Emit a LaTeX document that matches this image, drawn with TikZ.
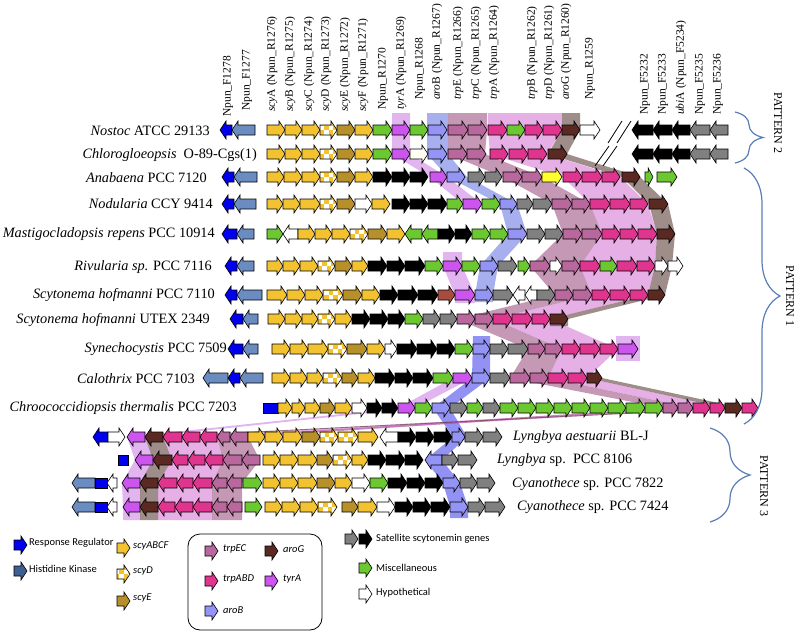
\documentclass[tikz,border=0pt]{standalone}
\usepackage{fontspec}
\setmainfont{Liberation Serif}
\newfontfamily\legfont{Carlito}
\usetikzlibrary{decorations.pathreplacing}

\definecolor{scyY}{HTML}{F2C230}
\definecolor{scyEc}{HTML}{B8902A}
\definecolor{satG}{HTML}{808080}
\definecolor{miscG}{HTML}{6CC830}
\definecolor{tyrAc}{HTML}{CC55EE}
\definecolor{aroBc}{HTML}{9494F4}
\definecolor{trpECc}{HTML}{B8689C}
\definecolor{trpABDc}{HTML}{E0358E}
\definecolor{aroGc}{HTML}{5A2A22}
\definecolor{redB}{HTML}{A84C40}
\definecolor{brightY}{HTML}{FFFF30}
\definecolor{rrB}{HTML}{0000EE}
\definecolor{hkB}{HTML}{6A8CC0}
\definecolor{hkD}{HTML}{3F5F90}
\definecolor{braceB}{HTML}{5A7DB5}

\tikzset{
  gene/.style={draw=black, line width=0.6pt},
  cY/.style={fill=scyY},
  cD/.style={fill=scyY, path picture={
      \foreach \dx/\dy in {-9pt/0pt,-4.5pt/-4.5pt,0pt/0pt,4.5pt/-4.5pt}
        \fill[white] ([xshift=\dx, yshift=\dy]path picture bounding box.center) rectangle ++(4.5pt,4.5pt);}},
  cE/.style={fill=scyEc},
  cK/.style={fill=black},
  cS/.style={fill=satG},
  cG/.style={fill=miscG},
  cW/.style={fill=white},
  cWl/.style={fill=black!8!yellow!5},
  cT/.style={fill=tyrAc},
  cB/.style={fill=aroBc},
  cM/.style={fill=trpECc},
  cP/.style={fill=trpABDc},
  cR/.style={fill=aroGc},
  cRb/.style={fill=redB},
  cYb/.style={fill=brightY},
  cRR/.style={fill=rrB},
  cHK/.style={fill=hkB},
  cHKd/.style={fill=hkD},
  bandB/.style={fill={rgb,255:red,80;green,96;blue,224}, fill opacity=0.5},
  bandBd/.style={fill={rgb,255:red,100;green,100;blue,240}, fill opacity=0.7},
  bandT/.style={fill={rgb,255:red,190;green,90;blue,225}, fill opacity=0.45},
  bandM/.style={fill={rgb,255:red,150;green,70;blue,120}, fill opacity=0.55},
  bandP/.style={fill={rgb,255:red,200;green,80;blue,200}, fill opacity=0.45},
  bandR/.style={fill={rgb,255:red,80;green,48;blue,40}, fill opacity=0.55},
  glab/.style={rotate=90, anchor=west, inner sep=0pt, font=\fontsize{11.5}{12}\selectfont},
  sp/.style={inner sep=0pt, font=\fontsize{14.3}{16}\selectfont},
  patt/.style={rotate=-90, inner sep=0pt, font=\fontsize{12}{13}\selectfont},
  pbrace/.style={draw=braceB, line width=1.2pt, decorate},
  leg/.style={anchor=west, inner sep=0pt, font=\legfont\fontsize{10.5}{12}\selectfont},
}

% one gene: x1, x2, y, colour style, direction (r, l or n)
\newcommand\gene[5]{%
  \pgfmathsetmacro\gh{min(6,0.6*(#2-#1))}%
  \if r#5
    \draw[gene,#4] (#1,#3-5) -- (#2-\gh,#3-5) -- (#2-\gh,#3-9) -- (#2,#3)
      -- (#2-\gh,#3+9) -- (#2-\gh,#3+5) -- (#1,#3+5) -- cycle;
  \else\if l#5
    \draw[gene,#4] (#2,#3-5) -- (#1+\gh,#3-5) -- (#1+\gh,#3-9) -- (#1,#3)
      -- (#1+\gh,#3+9) -- (#1+\gh,#3+5) -- (#2,#3+5) -- cycle;
  \else
    \draw[gene,#4] (#1,#3-5) rectangle (#2,#3+5);
  \fi\fi}
\newcommand\generow[2]{\foreach \a/\b/\s/\d in {#2} {\gene{\a}{\b}{#1}{\s}{\d}}}

\begin{document}
\begin{tikzpicture}[x=1pt,y=-1pt]
\useasboundingbox (0,0) rectangle (800,634);

% homology bands
\fill[bandB] (427,113) -- (448,113) -- (448,154) -- (467,177) -- (517,204) -- (527,234) -- (498,266)
  -- (493,295) -- (493,302) -- (475,302) -- (475,295) -- (480,266) -- (508,234) -- (500,204)
  -- (448,177) -- (427,154) -- cycle;
\fill[bandBd] (473,336) -- (490,336) -- (490,378) -- (450,408) -- (467,437) -- (442,460) -- (460,483)
  -- (468,507) -- (468,518) -- (450,518) -- (450,507) -- (443,483) -- (425,460) -- (453,437)
  -- (433,408) -- (472,378) -- cycle;
\fill[bandT] (392,113) -- (410,113) -- (410,154) -- (447,177) -- (482,204) -- (463,204) -- (430,177)
  -- (392,154) -- cycle;
\fill[bandT] (443,252) -- (462,252) -- (462,266) -- (475,295) -- (475,303) -- (455,303) -- (455,295)
  -- (443,266) -- cycle;
\fill[bandT] (616,336) rectangle (640,361);
\fill[bandT] (453,378) -- (472,378) -- (415,408) -- (145,437) -- (153,460) -- (140,483) -- (140,507)
  -- (140,520) -- (123,520) -- (123,507) -- (122,483) -- (135,460) -- (127,437) -- (398,408) -- cycle;
\fill[bandM] (448,113) -- (487,113) -- (487,130) -- (485,154) -- (542,177) -- (590,204) -- (602,234)
  -- (580,266) -- (592,295) -- (493,319) -- (562,349) -- (548,378) -- (693,408) -- (248,437)
  -- (260,460) -- (242,483) -- (242,520) -- (212,520) -- (212,483) -- (223,460) -- (217,437)
  -- (663,408) -- (510,378) -- (528,349) -- (457,319) -- (555,295) -- (530,266) -- (563,234)
  -- (552,204) -- (503,177) -- (448,154) -- cycle;
\fill[bandP] (488,113) -- (562,113) -- (562,130) -- (547,154) -- (620,177) -- (648,204) -- (657,234)
  -- (655,266) -- (648,295) -- (550,319) -- (618,349) -- (587,378) -- (725,408) -- (217,437)
  -- (223,460) -- (212,483) -- (212,520) -- (158,520) -- (158,483) -- (172,460) -- (163,437)
  -- (693,408) -- (548,378) -- (562,349) -- (493,319) -- (592,295) -- (580,266) -- (602,234)
  -- (590,204) -- (563,177) -- (490,154) -- (488,130) -- cycle;
\fill[bandR] (562,113) -- (580,113) -- (580,130) -- (567,154) -- (640,177) -- (668,204) -- (675,234)
  -- (672,266) -- (665,295) -- (568,319) -- (568,326) -- (550,326) -- (550,319) -- (648,295)
  -- (655,266) -- (657,234) -- (649,204) -- (622,177) -- (548,154) -- (562,130) -- cycle;
\fill[bandR] (587,378) -- (602,378) -- (742,408) -- (163,437) -- (172,460) -- (158,483) -- (158,520)
  -- (140,520) -- (140,483) -- (153,460) -- (145,437) -- (725,408) -- cycle;

% gene rows
\generow{130}{220/232/cRR/l, 232/255/cHK/l, 267/285/cY/r, 285/302/cY/r, 302/320/cY/r, 320/337/cD/r,
  337/355/cE/r, 355/373/cY/r, 373/392/cG/r, 392/410/cT/r, 410/428/cG/r, 428/447/cB/r, 448/468/cM/r,
  468/487/cM/r, 488/507/cP/r, 507/525/cG/r, 525/543/cP/r, 543/562/cP/r, 562/580/cR/r, 580/600/cW/r,
  632/653/cK/l, 653/672/cK/l, 672/690/cK/l, 690/710/cS/l, 710/728/cS/l}
\generow{154}{267/285/cY/r, 285/302/cY/r, 302/320/cY/r, 320/337/cD/r, 337/355/cE/r, 355/373/cY/r,
  373/392/cG/r, 392/410/cT/r, 410/428/cWl/r, 428/447/cB/r, 448/467/cM/r, 467/486/cM/r, 490/508/cP/r,
  509/528/cP/r, 528/547/cP/r, 548/567/cR/r, 632/653/cK/l, 653/672/cK/l, 672/690/cK/l, 690/710/cS/l,
  710/728/cS/l}
\generow{177}{222/234/cRR/l, 234/257/cHK/l, 267/284/cY/r, 284/302/cY/r, 302/320/cY/r, 320/337/cD/r,
  337/355/cE/r, 355/373/cY/r, 373/392/cK/r, 392/410/cK/r, 410/428/cK/r, 430/447/cT/r, 447/465/cB/r,
  468/485/cS/r, 485/502/cS/r, 503/522/cM/r, 522/542/cM/r, 542/562/cYb/r, 563/582/cP/r, 582/602/cP/r,
  602/620/cP/r, 622/640/cR/r, 645/653/cG/r, 657/677/cG/r}
\generow{204}{222/234/cRR/l, 234/256/cHK/l, 267/283/cY/r, 283/300/cY/r, 300/320/cY/r, 320/337/cD/r,
  337/355/cE/r, 355/372/cW/r, 372/390/cY/r, 392/410/cK/r, 410/428/cK/r, 428/447/cK/r, 447/463/cG/r,
  463/482/cT/r, 482/500/cG/r, 500/517/cB/r, 517/533/cS/r, 533/552/cS/r, 552/572/cM/r, 572/590/cM/r,
  590/610/cP/r, 610/630/cP/r, 630/648/cP/r, 649/668/cR/r}
\generow{234}{222/237/cRR/l, 237/254/cHK/l, 267/283/cG/r, 283/298/cW/l, 298/315/cY/r, 315/332/cY/r,
  332/350/cY/r, 350/368/cD/r, 368/387/cE/r, 387/405/cY/r, 405/422/cG/l, 422/438/cG/l, 438/455/cK/r,
  455/472/cK/r, 472/490/cG/r, 490/508/cG/r, 508/527/cB/r, 527/545/cS/r, 545/563/cS/r, 563/582/cM/r,
  582/602/cM/r, 602/620/cP/r, 620/638/cP/r, 638/657/cP/r, 657/675/cR/r}
\generow{266}{225/237/cRR/l, 237/254/cHK/l, 267/283/cY/r, 283/300/cY/r, 300/318/cY/r, 318/335/cD/r,
  335/352/cE/r, 352/368/cY/r, 368/387/cK/r, 387/405/cK/r, 405/425/cK/r, 425/443/cG/r, 443/462/cT/r,
  462/480/cG/r, 480/498/cB/r, 498/517/cS/r, 518/530/cG/r, 530/550/cM/r, 550/562/cW/r, 562/580/cM/r,
  580/600/cP/r, 600/617/cG/r, 617/637/cP/r, 637/655/cP/r, 655/668/cW/r, 668/683/cW/r}
\generow{295}{225/237/cRR/l, 237/262/cHK/l, 267/287/cY/r, 287/305/cY/r, 305/323/cY/r, 323/343/cD/r,
  343/362/cE/r, 362/380/cY/r, 380/398/cK/r, 398/418/cK/r, 418/438/cK/r, 438/455/cRb/r, 455/475/cT/r,
  475/493/cB/r, 493/513/cS/r, 513/525/cW/l, 525/537/cW/l, 537/555/cS/r, 555/573/cM/r, 573/592/cM/r,
  592/610/cP/r, 610/630/cP/r, 630/648/cP/r, 648/665/cR/r}
\generow{319}{230/243/cRR/l, 243/258/cHK/l, 268/285/cY/r, 285/302/cY/r, 302/318/cY/r, 318/335/cD/r,
  335/352/cY/r, 352/370/cK/r, 370/388/cK/r, 388/405/cK/r, 405/423/cG/r, 423/440/cS/r, 440/457/cS/r,
  457/475/cM/r, 475/493/cM/r, 493/512/cP/r, 512/532/cP/r, 532/550/cP/r, 550/568/cR/r}
\generow{349}{228/243/cRR/l, 243/258/cHK/l, 272/290/cY/r, 290/308/cY/r, 308/328/cY/r, 328/347/cD/r,
  347/367/cE/r, 367/385/cY/r, 385/397/cW/r, 397/417/cK/r, 417/437/cK/r, 437/455/cK/r, 455/473/cG/r,
  473/490/cB/r, 490/508/cS/r, 508/528/cS/r, 528/545/cM/r, 545/562/cM/r, 562/580/cP/r, 580/600/cP/r,
  600/618/cP/r, 618/638/cT/r}
\generow{378}{203/228/cHK/l, 228/240/cRR/l, 240/263/cHK/l, 272/290/cY/r, 290/307/cY/r, 307/323/cY/r,
  323/342/cD/r, 342/358/cE/r, 358/375/cY/r, 375/395/cK/r, 395/413/cK/r, 413/433/cK/r, 433/453/cG/r,
  453/472/cT/r, 472/490/cB/r, 490/510/cS/r, 510/530/cM/r, 530/548/cM/r, 548/568/cP/r, 568/587/cP/r,
  587/602/cR/r}
\generow{408}{263/278/cRR/n, 278/292/cY/r, 292/305/cY/r, 305/320/cY/r, 320/335/cE/r, 335/352/cY/r,
  352/367/cW/r, 367/382/cK/r, 382/398/cK/r, 398/415/cT/r, 415/432/cG/r, 432/450/cB/r, 450/467/cS/r,
  467/483/cG/r, 483/500/cS/r, 500/518/cG/r, 518/536/cG/r, 536/554/cG/r, 554/572/cG/r, 572/590/cG/r,
  590/608/cG/r, 608/626/cG/r, 626/645/cG/r, 645/663/cG/r, 663/678/cM/r, 678/693/cM/r, 693/710/cP/r,
  710/725/cP/r, 725/742/cR/r, 742/758/cP/r}
\generow{437}{93/108/cRR/l, 108/125/cW/r, 127/145/cT/l, 145/163/cR/l, 163/182/cP/l, 182/200/cP/l,
  200/217/cP/l, 217/230/cM/l, 230/248/cM/l, 248/265/cY/r, 265/283/cY/r, 283/302/cY/r, 302/320/cE/r,
  320/338/cD/r, 338/358/cD/r, 358/378/cY/r, 380/398/cW/l, 398/416/cK/r, 416/434/cK/r, 434/452/cK/r,
  452/465/cB/r, 465/483/cS/r, 483/502/cS/r}
\generow{460}{118/128/cRR/n, 135/153/cT/l, 153/172/cR/l, 172/188/cP/l, 188/205/cP/l, 205/223/cP/l,
  223/242/cM/l, 242/260/cM/l, 263/280/cY/r, 280/298/cY/r, 298/317/cY/r, 317/333/cE/r, 333/352/cD/r,
  352/368/cY/r, 368/386/cK/r, 386/405/cK/r, 405/423/cK/r, 425/442/cB/l, 442/458/cS/r, 458/477/cS/r}
\generow{483}{72/95/cHK/l, 95/107/cRR/n, 107/117/cW/l, 122/140/cT/l, 140/158/cR/l, 158/177/cP/l,
  177/193/cP/l, 193/212/cP/l, 212/227/cM/l, 227/242/cM/l, 243/262/cG/r, 263/280/cY/r, 280/298/cY/r,
  298/317/cY/r, 317/335/cE/r, 335/352/cY/r, 352/370/cW/r, 370/388/cG/r, 388/407/cK/r, 407/425/cK/r,
  425/443/cK/r, 443/460/cB/r, 460/477/cS/r, 477/495/cS/r}
\generow{507}{72/95/cHK/l, 95/107/cRR/n, 107/117/cW/l, 123/140/cT/l, 140/158/cR/l, 158/175/cP/l,
  175/193/cP/l, 193/212/cP/l, 212/227/cM/l, 227/242/cM/l, 245/262/cG/r, 265/282/cY/r, 282/300/cY/r,
  300/318/cY/r, 318/337/cD/r, 342/358/cE/r, 358/377/cY/r, 377/395/cW/r, 395/413/cK/r, 413/431/cK/r,
  431/450/cK/r, 450/468/cB/r, 468/485/cS/r, 485/505/cS/r}

% breaks in the Nostoc and Chlorogloeopsis rows
\draw[line width=0.8pt] (608,143) -- (622,121) (617,143) -- (631,121);
\draw[line width=0.8pt] (595,166) -- (609,146) (603,166) -- (617,146);

% gene names above the first row
\foreach \lx/\ly/\lt [count=\i] in {
  228/117/{Npun\_F1278}, 247/111/{Npun\_F1277},
  272/112/{\textit{scy}A (Npun\_R1276)}, 290/112/{\textit{scy}B (Npun\_R1275)},
  309/112/{\textit{scy}C (Npun\_R1274)}, 326/112/{\textit{scy}D (Npun\_R1273)},
  345/112/{\textit{scy}E (Npun\_R1272)}, 363/112/{\textit{scy}F (Npun\_R1271)},
  383/110/{Npun\_R1270}, 401/110/{\textit{tyr}A (Npun\_R1269)},
  420/100/{Npun\_R1268}, 437/100/{\textit{aro}B (Npun\_R1267)},
  458/100/{\textit{trp}E (Npun\_R1266)}, 476/100/{\textit{trp}C (Npun\_R1265)},
  494/100/{\textit{trp}A (Npun\_R1264)}, 532/100/{\textit{trp}B (Npun\_R1262)},
  549/100/{\textit{trp}D (Npun\_R1261)}, 566/100/{\textit{aro}G (Npun\_R1260)},
  590/100/{Npun\_R1259}, 645/115/{Npun\_F5232}, 663/115/{Npun\_F5233},
  681/115/{\textit{ubi}A (Npun\_F5234)}, 700/115/{Npun\_F5235}, 718/115/{Npun\_F5236}}
  \node[glab, name=gl\i] at (\lx,\ly) {\lt};

% strain names
\node[sp, anchor=east] (sp1) at (210,131) {\textit{Nostoc} ATCC 29133};
\node[sp, anchor=east] (sp2) at (257,155) {\textit{Chlorogloeopsis}\ \ O-89-Cgs(1)};
\node[sp, anchor=east] (sp3) at (207,178) {\textit{Anabaena} PCC 7120};
\node[sp, anchor=east] (sp4) at (213,204) {\textit{Nodularia} CCY 9414};
\node[sp, anchor=east] (sp5) at (215,234) {\textit{Mastigocladopsis repens} PCC 10914};
\node[sp, anchor=east] (sp6) at (212,267) {\textit{Rivularia sp.} PCC 7116};
\node[sp, anchor=east] (sp7) at (215,295) {\textit{Scytonema hofmanni} PCC 7110};
\node[sp, anchor=east] (sp8) at (210,320) {\textit{Scytonema hofmanni} UTEX 2349};
\node[sp, anchor=east] (sp9) at (227,349) {\textit{Synechocystis} PCC 7509};
\node[sp, anchor=east] (sp10) at (195,379) {\textit{Calothrix} PCC 7103};
\node[sp, anchor=east] (sp11) at (237,408) {\textit{Chroococcidiopsis thermalis} PCC 7203};
\node[sp, anchor=west] (sp12) at (513,437) {\textit{Lyngbya aestuarii} BL-J};
\node[sp, anchor=west] (sp13) at (497,460) {\textit{Lyngbya} sp.\ \ PCC 8106};
\node[sp, anchor=west] (sp14) at (512,484) {\textit{Cyanothece} sp. PCC 7822};
\node[sp, anchor=west] (sp15) at (517,507) {\textit{Cyanothece} sp. PCC 7424};

% pattern braces
\draw[pbrace, decoration={brace, amplitude=28pt}] (735,112) -- (735,163);
\draw[pbrace, decoration={brace, amplitude=36pt}] (744,168) -- (744,424);
\draw[pbrace, decoration={brace, amplitude=40pt}] (710,428) -- (710,522);
\node[patt] (pat2) at (778,123) {PATTERN 2};
\node[patt] (pat1) at (790,296) {PATTERN 1};
\node[patt] (pat3) at (764,486) {PATTERN 3};

% legend
\gene{14}{27}{545}{cRR}{r}
\gene{14}{27}{571}{cHKd}{r}
\node[leg] (lrr) at (29,543) {Response Regulator};
\node[leg] (lhk) at (29,569) {Histidine Kinase};
\gene{117}{130}{548}{cY}{r}
\gene{117}{130}{574}{cD}{r}
\gene{117}{130}{601}{cE}{r}
\node[leg] (lscy) at (133,546) {\itshape scyABCF};
\node[leg] (lscyd) at (133,571) {\itshape scyD};
\node[leg] (lscye) at (133,598) {\itshape scyE};
\draw[line width=0.8pt, rounded corners=12pt] (188,534) rectangle (322,630);
\gene{205}{218}{551}{cM}{r}
\gene{205}{218}{581}{cP}{r}
\gene{205}{218}{611}{cB}{r}
\gene{265}{278}{551}{cR}{r}
\gene{265}{278}{581}{cT}{r}
\node[leg] (ltrpec) at (223,549) {\itshape trpEC};
\node[leg] (ltrpabd) at (223,579) {\itshape trpABD};
\node[leg] (larob) at (223,610) {\itshape aroB};
\node[leg] (larog) at (283,549) {\itshape aroG};
\node[leg] (ltyra) at (283,579) {\itshape tyrA};
\gene{345}{358}{539}{cS}{r}
\gene{359}{372}{539}{cK}{r}
\gene{359}{372}{568}{cG}{r}
\gene{359}{372}{594}{cW}{r}
\node[leg] (lsat) at (376,539) {Satellite scytonemin genes};
\node[leg] (lmisc) at (376,568) {Miscellaneous};
\node[leg] (lhyp) at (376,593) {Hypothetical};
\end{tikzpicture}
\end{document}
